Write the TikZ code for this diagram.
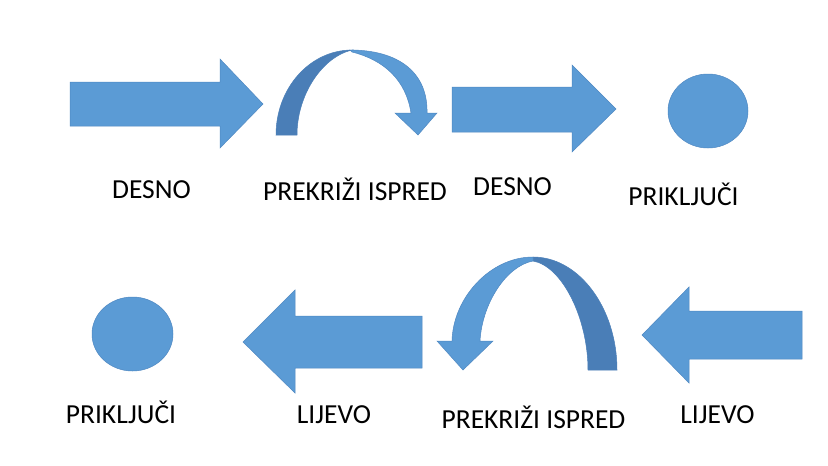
\documentclass[tikz,border=0pt]{standalone}
\usepackage{fontspec}
\setmainfont{Carlito}
\definecolor{lightblue}{HTML}{5B9BD5}
\definecolor{darkblue}{HTML}{4A7EB7}
\definecolor{edgeblue}{HTML}{4F88C2}
\begin{document}
\begin{tikzpicture}[x=1pt,y=-1pt,
  lightshape/.style={fill=lightblue,draw=edgeblue,line width=0.5pt,line join=miter},
  darkshape/.style={fill=darkblue,draw=darkblue,line width=0.5pt},
  label/.style={anchor=base,inner sep=0pt,font=\fontsize{27.5}{33}\selectfont}]
\useasboundingbox[fill=white] (0,0) rectangle (828,466);
% top row: right arrow 1
\draw[lightshape] (70,82) -- (220,82) -- (220,59) -- (263,104) -- (220,148) -- (220,126) -- (70,126) -- cycle;
% top curved arrow
\draw[darkshape] (276,135) .. controls (276,88) and (310,50) .. (352,50)
  .. controls (322,57) and (297,95) .. (297,135) -- cycle;
\draw[lightshape] (350,50) .. controls (398,50) and (428,72) .. (427,113)
  -- (437,113) -- (418,135) -- (395,113) -- (411,113)
  .. controls (406,80) and (384,60) .. (352,52) -- cycle;
% right arrow 2
\draw[lightshape] (452,87) -- (572,87) -- (572,65) -- (616,109) -- (572,152) -- (572,132) -- (452,132) -- cycle;
% circle top
\draw[lightshape] (708,111) ellipse[x radius=40,y radius=37];
% bottom row: right-most left arrow
\draw[lightshape] (802,311) -- (689,311) -- (689,287) -- (642,335) -- (689,383) -- (689,359) -- (802,359) -- cycle;
% bottom curved arrow
\draw[darkshape] (533,257) .. controls (579,257) and (617,308) .. (617,370)
  -- (588,370) .. controls (588,318) and (562,266) .. (533,261) -- cycle;
\draw[lightshape] (533,257) .. controls (490,257) and (453,298) .. (452,341)
  -- (437,341) -- (463,370) -- (493,341) -- (480,341)
  .. controls (482,304) and (506,266) .. (533,261) -- cycle;
% left arrow
\draw[lightshape] (422,316) -- (295,316) -- (295,290) -- (243,342) -- (295,393) -- (295,368) -- (422,368) -- cycle;
% circle bottom
\draw[lightshape] (132.5,334) ellipse[x radius=40.5,y radius=37];
% labels
\node[label] (t1) at (151.5,198) {DESNO};
\node[label] (t2) at (355,200) {PREKRIŽI ISPRED};
\node[label] (t3) at (512.5,195) {DESNO};
\node[label] (t4) at (683.5,205) {PRIKLJUČI};
\node[label] (b1) at (121,423) {PRIKLJUČI};
\node[label] (b2) at (334,423) {LIJEVO};
\node[label] (b3) at (533.5,428) {PREKRIŽI ISPRED};
\node[label] (b4) at (717.5,423) {LIJEVO};
\end{tikzpicture}
\end{document}
